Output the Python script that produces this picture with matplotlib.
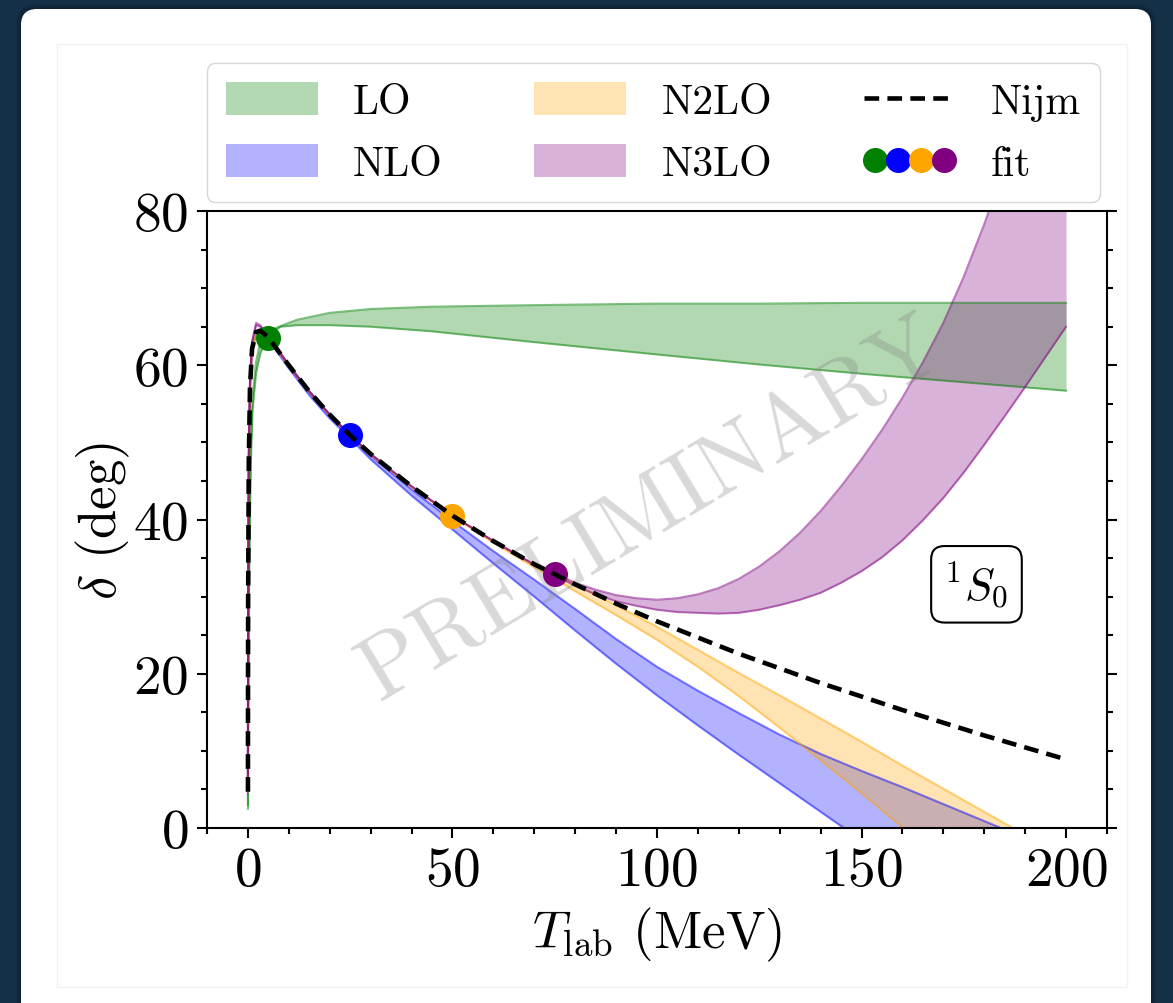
import numpy as np
import matplotlib
matplotlib.use('Agg')
import matplotlib.pyplot as plt
from matplotlib.patches import FancyBboxPatch, Rectangle
from matplotlib.transforms import IdentityTransform
from matplotlib.lines import Line2D
from matplotlib.legend_handler import HandlerTuple
from matplotlib.ticker import MultipleLocator

plt.rcParams['font.family'] = 'serif'
plt.rcParams['font.serif'] = ['cmr10']
plt.rcParams['mathtext.fontset'] = 'cm'
plt.rcParams['axes.formatter.use_mathtext'] = True

# Nijmegen PWA (1S0)
T_nijm = [0.001, 0.01, 0.05, 0.2, 0.5, 1, 2, 3, 5, 10, 15, 20, 25, 30, 40, 50, 60,
          70, 80, 90, 100, 120, 140, 160, 180, 200]
d_nijm = [4.7, 14.6, 29.8, 47.3, 57.1, 62.1, 64.3, 64.5, 63.6, 60.0, 56.6, 53.6, 50.9,
          48.5, 44.3, 40.5, 37.2, 34.2, 31.6, 29.1, 26.8, 22.6, 18.8, 15.3, 12.0, 8.9]

# LO band
T_lo = [0.001, 0.05, 0.2, 0.5, 0.75, 1.15, 2, 3, 5, 8, 12, 20, 30, 45, 70, 100, 125,
        150, 175, 200]
lo_min = [2.5, 12.0, 28.0, 40.0, 47.9, 54.3, 59.0, 61.5, 64.0, 65.0, 65.2, 65.2, 65.0,
          64.4, 63.0, 61.4, 60.1, 58.9, 57.8, 56.7]
lo_max = [3.0, 14.0, 31.0, 44.0, 50.5, 56.0, 60.5, 63.0, 64.4, 65.1, 65.9, 66.8, 67.3,
          67.6, 67.8, 68.0, 68.0, 68.1, 68.1, 68.1]

# NLO and N2LO bands
T_band = [0.001, 0.01, 0.05, 0.2, 0.5, 1, 2, 3, 5, 10, 15, 20, 25, 30, 40, 50, 60, 70,
          75, 80, 90, 100, 110, 120, 130, 140, 150, 160, 170, 180, 190, 200]
nlo_min = [4.5, 14.2, 29.4, 46.9, 56.8, 61.9, 64.1, 64.2, 63.3, 59.6, 56.1, 53.1, 50.5,
           47.8, 43.1, 38.7, 34.3, 30.0, 27.8, 25.6, 21.3, 17.2, 13.3, 9.5, 5.8, 2.1,
           -1.6, -5.3, -9.0, -12.7, -16.4, -20.1]
nlo_max = [4.7, 14.6, 29.8, 47.3, 57.1, 62.1, 64.3, 64.5, 63.6, 60.0, 56.6, 53.6, 50.9,
           48.3, 43.9, 39.8, 35.9, 32.2, 30.3, 28.4, 24.5, 20.9, 17.8, 14.9, 12.1, 9.6,
           7.4, 5.3, 3.1, 0.9, -1.3, -3.5]
n2lo_min = [4.6, 14.4, 29.6, 47.1, 57.0, 62.0, 64.2, 64.4, 63.5, 59.9, 56.5, 53.5, 50.8,
            48.4, 44.2, 40.4, 37.0, 33.8, 32.3, 30.7, 27.6, 24.4, 20.9, 17.1, 13.0, 8.8,
            4.5, 0.1, -4.3, -8.8, -13.3, -17.8]
n2lo_max = [4.7, 14.6, 29.8, 47.3, 57.1, 62.1, 64.3, 64.5, 63.6, 60.0, 56.6, 53.6, 50.9,
            48.5, 44.3, 40.5, 37.2, 34.1, 32.9, 31.6, 28.9, 26.1, 23.1, 20.1, 17.2, 14.2,
            11.2, 8.1, 5.1, 2.1, -0.9, -3.9]

# N3LO band
T_n3lo = [0.001, 0.01, 0.05, 0.2, 0.5, 1, 2, 3, 5, 10, 15, 20, 25, 30, 40, 50, 60, 70,
          75, 80, 85, 90, 95, 100, 105, 110, 115, 120, 125, 130, 135, 140, 145, 150, 155,
          160, 165, 170, 175, 180, 185, 190, 195, 200]
n3lo_min = [5.0, 15.0, 30.5, 48.0, 58.0, 63.0, 65.2, 65.0, 63.8, 60.0, 56.6, 53.6, 50.9,
            48.5, 44.3, 40.5, 37.2, 34.1, 32.8, 31.4, 30.3, 29.4, 28.8, 28.3, 28.0, 27.9,
            27.8, 27.9, 28.3, 28.9, 29.6, 30.5, 31.8, 33.3, 35.1, 37.3, 39.9, 42.8, 46.1,
            49.7, 53.4, 57.2, 61.1, 65.0]
n3lo_max = [5.0, 15.0, 30.5, 48.0, 58.0, 63.0, 65.5, 65.2, 63.9, 60.0, 56.6, 53.6, 50.9,
            48.5, 44.3, 40.5, 37.2, 34.2, 33.0, 31.8, 30.9, 30.2, 29.8, 29.6, 29.8, 30.3,
            31.1, 32.3, 33.9, 35.9, 38.3, 41.1, 44.3, 47.8, 51.6, 55.8, 60.4, 65.5, 71.5,
            78.3, 85.8, 93.8, 102.4, 111.5]

# fit points
T_fit = [5, 25, 50, 75]
d_fit = [63.6, 50.9, 40.5, 33.0]
fit_colors = ['green', 'blue', 'orange', 'purple']

fig = plt.figure(figsize=(11.73, 10.04), dpi=100, facecolor='#133047')

# card behind the figure
for i in range(6):
    fig.patches.append(FancyBboxPatch((21 - i, -30 - i), 1130 + 2 * i, 1024 + 2 * i,
                                      boxstyle='round,pad=0,rounding_size=%d' % (16 + i),
                                      transform=IdentityTransform(), fc='black',
                                      ec='none', alpha=0.05, zorder=-3))
fig.patches.append(FancyBboxPatch((21, -30), 1130, 1024,
                                  boxstyle='round,pad=0,rounding_size=16',
                                  transform=IdentityTransform(), fc='white', ec='none',
                                  zorder=-2))
fig.patches.append(Rectangle((57, 16), 1070, 943, transform=IdentityTransform(),
                             fc='none', ec='#f2f2f2', lw=1, zorder=-1))

ax = fig.add_axes([0.1765, 0.1743, 0.7672, 0.6145])
ax.set_facecolor('white')

bands = [('LO', T_lo, lo_min, lo_max, 'green'),
         ('NLO', T_band, nlo_min, nlo_max, 'blue'),
         ('N2LO', T_band, n2lo_min, n2lo_max, 'orange'),
         ('N3LO', T_n3lo, n3lo_min, n3lo_max, 'purple')]

handles = []
for name, T, dmin, dmax, col in bands:
    h = ax.fill_between(T, dmin, dmax, color=col, alpha=0.3, lw=0, label=name)
    ax.plot(T, dmin, color=col, alpha=0.5, lw=1.5)
    ax.plot(T, dmax, color=col, alpha=0.5, lw=1.5)
    handles.append(h)

for t, d, c in zip(T_fit, d_fit, fit_colors):
    ax.plot(t, d, 'o', color=c, ms=17, zorder=5)

nijm, = ax.plot(T_nijm, d_nijm, color='black', lw=3.3, dashes=(3.2, 1.8), zorder=6,
                label='Nijm')
handles.append(nijm)
fit_handle = tuple(Line2D([], [], marker='o', ls='', color=c, ms=17) for c in fit_colors)
handles.append(fit_handle)

ax.text(0.495, 0.515, 'PRELIMINARY', transform=ax.transAxes, fontsize=65, color='gray',
        alpha=0.3, rotation=31, ha='center', va='center')

ax.text(0.855, 0.395, r'$^1S_0$', transform=ax.transAxes, fontsize=32, ha='center',
        va='center', bbox=dict(boxstyle='round,pad=0.3', fc='white', ec='black', lw=1.5),
        zorder=7)

ax.set_xlim(-10, 210)
ax.set_ylim(0, 80)
ax.xaxis.set_major_locator(MultipleLocator(50))
ax.xaxis.set_minor_locator(MultipleLocator(10))
ax.yaxis.set_major_locator(MultipleLocator(20))
ax.yaxis.set_minor_locator(MultipleLocator(5))
ax.tick_params(which='both', direction='out', top=False, right=True, width=1.5,
               labelsize=40)
ax.tick_params(which='major', length=7.5, pad=6)
ax.tick_params(which='minor', length=4.5)
for s in ax.spines.values():
    s.set_linewidth(1.5)

ax.set_xlabel(r'$T_{\rm lab}$ (MeV)', fontsize=38, labelpad=6)
ax.set_ylabel(r'$\delta$ (deg)', fontsize=38, labelpad=1)

leg = ax.legend(handles, ['LO', 'NLO', 'N2LO', 'N3LO', 'Nijm', 'fit'], ncol=3,
                loc='lower center', bbox_to_anchor=(0.496, 1.015), borderaxespad=0,
                fontsize=30, handlelength=2.2, handleheight=0.85, handletextpad=0.85,
                columnspacing=2.2, labelspacing=0.55, borderpad=0.45, fancybox=True,
                edgecolor='#cccccc',
                handler_map={tuple: HandlerTuple(ndivide=None, pad=0)})

fig.savefig('out.png', dpi=100, facecolor=fig.get_facecolor())
